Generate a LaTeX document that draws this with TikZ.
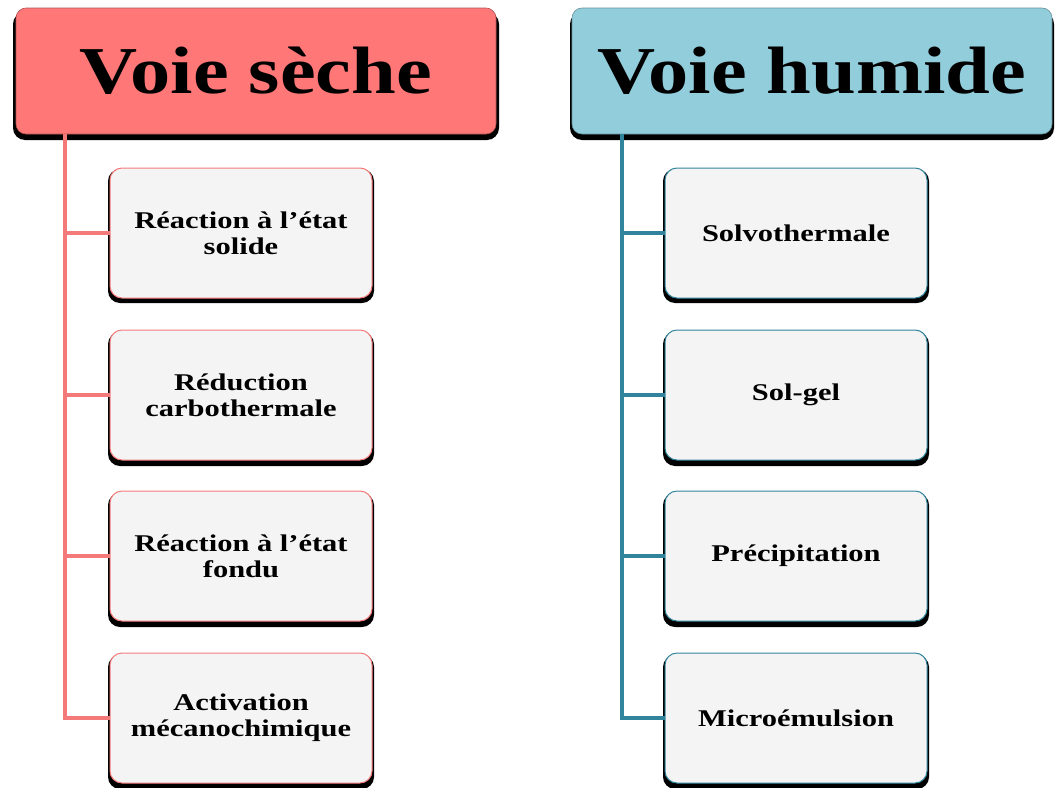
\documentclass[tikz,border=0pt]{standalone}
\usepackage{fontspec}
\setmainfont{Liberation Serif}
\newfontfamily\boxfont[FakeStretch=1.27]{Liberation Serif}
\newfontfamily\headfont[FakeStretch=1.2]{Liberation Serif}
\definecolor{redfill}{HTML}{FF7777}
\definecolor{bluefill}{HTML}{92CDDC}
\definecolor{redline}{HTML}{F47A7A}
\definecolor{blueline}{HTML}{31849B}
\definecolor{boxfill}{HTML}{F4F4F4}
\begin{document}
\begin{tikzpicture}[x=1pt,y=-1pt,
  header/.style={draw=#1!70!black, line width=0.6pt, rounded corners=10pt, minimum width=480pt, minimum height=126pt, inner sep=0pt, font=\headfont\fontsize{67}{70}\selectfont\bfseries},
  itembox/.style={draw=#1, line width=1pt, fill=boxfill, rounded corners=12pt, minimum width=262pt, minimum height=130pt, inner sep=0pt, align=center, font=\boxfont\fontsize{24}{26}\selectfont\bfseries},
  shadow/.style={fill=black, rounded corners=12pt},
  conn/.style={line width=4pt, draw=#1}]
\useasboundingbox (0,0) rectangle (1060,787);
% header shadows
\fill[shadow] (13,12) rectangle (499,140);
\fill[shadow] (570,12) rectangle (1054,140);
\node[header=redfill, fill=redfill] (hs) at (256,71) {Voie sèche};
\node[header=bluefill, fill=bluefill] (hh) at (812,71) {Voie humide};
% item shadows
\foreach \x in {108,663}{
  \foreach \y in {169,332,493,655}{
    \fill[shadow] (\x,\y) rectangle ++(266,134);
  }
}
\node[itembox=redline] (s1) at (241,233) {Réaction à l’état\\solide};
\node[itembox=redline] (s2) at (241,395) {Réduction\\carbothermale};
\node[itembox=redline] (s3) at (241,556) {Réaction à l’état\\fondu};
\node[itembox=redline] (s4) at (241,718) {Activation\\mécanochimique};
\node[itembox=blueline] (h1) at (796,233) {Solvothermale};
\node[itembox=blueline] (h2) at (796,395) {Sol-gel};
\node[itembox=blueline] (h3) at (796,556) {Précipitation};
\node[itembox=blueline] (h4) at (796,718) {Microémulsion};
% connectors
\coordinate (sa) at (65,0);
\coordinate (ha) at (622,0);
\draw[conn=redline] (hs.south -| sa) -- (s4.west -| sa) -- (s4.west);
\foreach \n in {s1,s2,s3}{\draw[conn=redline] (\n.west -| sa) -- (\n.west);}
\draw[conn=blueline] (hh.south -| ha) -- (h4.west -| ha) -- (h4.west);
\foreach \n in {h1,h2,h3}{\draw[conn=blueline] (\n.west -| ha) -- (\n.west);}
\end{tikzpicture}
\end{document}
